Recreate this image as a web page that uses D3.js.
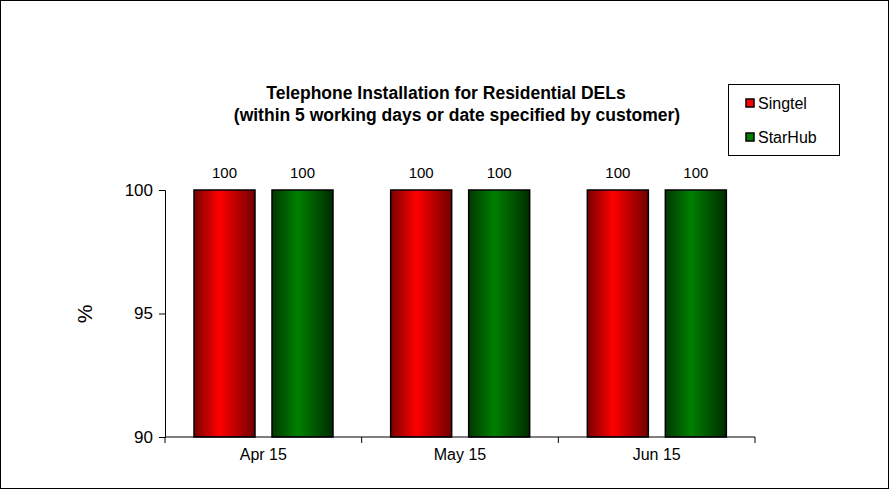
<!DOCTYPE html>
<html><head><meta charset="utf-8">
<script src="https://cdn.jsdelivr.net/npm/d3@7"></script>
<style>body{margin:0;background:#fff;} svg text{font-family:"Liberation Sans",Arial,sans-serif;}</style>
</head><body><div id="chart"></div>
<script>
const months = ["Apr 15", "May 15", "Jun 15"];
const series = ["Singtel", "StarHub"];
const singtel = [100, 100, 100];
const starhub = [100, 100, 100];
const yTicks = [90, 95, 100];

const W = 889, H = 489;
const svg = d3.select("#chart").append("svg").attr("width", W).attr("height", H);

svg.append("rect").attr("x", 0.5).attr("y", 0.5).attr("width", W - 1).attr("height", H - 1)
  .attr("fill", "#fff").attr("stroke", "#000");

const defs = svg.append("defs");
const grads = [["gRed", "#7a0000", "#ff0000", "#700000"], ["gGreen", "#003800", "#008000", "#002c00"]];
grads.forEach(([id, a, b, c]) => {
  const g = defs.append("linearGradient").attr("id", id).attr("x1", 0).attr("x2", 1).attr("y1", 0).attr("y2", 0);
  g.append("stop").attr("offset", "0%").attr("stop-color", a);
  g.append("stop").attr("offset", "42%").attr("stop-color", b);
  g.append("stop").attr("offset", "100%").attr("stop-color", c);
});
const fills = ["url(#gRed)", "url(#gGreen)"];
const legendFills = ["#ff0000", "#008000"];

const x0 = d3.scaleBand().domain(months).range([165, 755]);
const x1 = d3.scaleBand().domain(series).range([29, 168]).paddingInner(17 / 78);
const y = d3.scaleLinear().domain([90, 100]).range([437, 190]);

const data = months.map((m, i) => ({ m, vals: [singtel[i], starhub[i]] }));

const grp = svg.selectAll("g.cat").data(data).enter().append("g")
  .attr("transform", d => `translate(${x0(d.m)},0)`);
grp.selectAll("rect").data(d => d.vals.map((v, j) => ({ v, s: series[j], j }))).enter().append("rect")
  .attr("x", d => x1(d.s)).attr("width", x1.bandwidth())
  .attr("y", d => y(d.v)).attr("height", d => y(90) - y(d.v))
  .attr("fill", d => fills[d.j]).attr("stroke", "#000").attr("stroke-width", 1.5);
grp.selectAll("text").data(d => d.vals.map((v, j) => ({ v, s: series[j] }))).enter().append("text")
  .attr("x", d => x1(d.s) + x1.bandwidth() / 2).attr("y", d => y(d.v) - 12)
  .attr("text-anchor", "middle").style("font-size", "15px").text(d => d.v);

// axes
const yAxis = svg.append("g").attr("transform", "translate(165,0)")
  .call(d3.axisLeft(y).tickValues(yTicks).tickSize(6).tickFormat(d3.format("d")));
yAxis.selectAll("text").style("font-size", "17px").attr("x", -12);

const xAxis = svg.append("g").attr("transform", "translate(0,437)")
  .call(d3.axisBottom(x0).tickSize(0));
xAxis.select(".domain").remove();
xAxis.append("line").attr("x1", 165).attr("x2", 755).attr("stroke", "#000");
xAxis.selectAll(".tick text").style("font-size", "16px").attr("dy", "1.25em");
svg.append("g").selectAll("line").data(months.concat(["end"])).enter().append("line")
  .attr("x1", (d, i) => 165 + i * x0.step()).attr("x2", (d, i) => 165 + i * x0.step())
  .attr("y1", 437).attr("y2", 443).attr("stroke", "#000");
svg.selectAll(".domain, .tick line").attr("stroke", "#000");

svg.append("text").attr("transform", "translate(92,314) rotate(-90)").attr("text-anchor", "middle")
  .style("font-size", "21px").text("%");

svg.append("text").attr("x", 446).attr("y", 99).attr("text-anchor", "middle")
  .style("font-size", "17.5px").style("font-weight", "bold").text("Telephone Installation for Residential DELs");
svg.append("text").attr("x", 457).attr("y", 121).attr("text-anchor", "middle")
  .style("font-size", "17.5px").style("font-weight", "bold").text("(within 5 working days or date specified by customer)");

// legend
const lg = svg.append("g").attr("transform", "translate(728,84)");
lg.append("rect").attr("x", 0.5).attr("y", 0.5).attr("width", 111).attr("height", 71).attr("fill", "#fff").attr("stroke", "#000");
series.forEach((s, i) => {
  lg.append("rect").attr("x", 18).attr("y", 15 + i * 34).attr("width", 8).attr("height", 8)
    .attr("fill", legendFills[i]).attr("stroke", "#000").attr("stroke-width", 1.5);
  lg.append("text").attr("x", 30).attr("y", 25 + i * 34).style("font-size", "16px").text(s);
});
</script></body></html>
